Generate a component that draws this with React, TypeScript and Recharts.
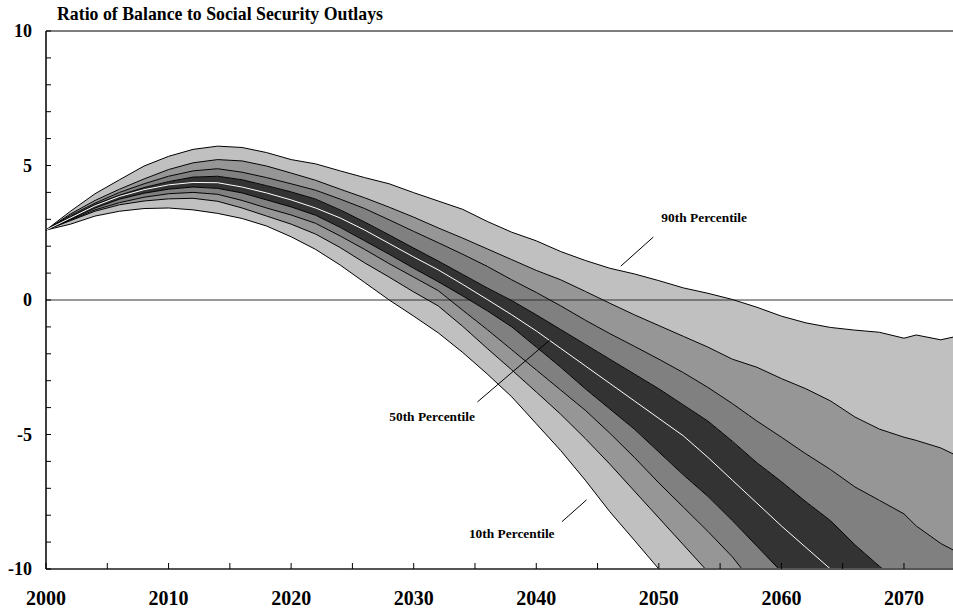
import React from "react";
import {
  ComposedChart,
  Area,
  Line,
  XAxis,
  YAxis,
  ReferenceLine,
  ReferenceDot,
} from "recharts";

// projection years (two-year steps, finer at the end)
const YEARS = [
  2000, 2002, 2004, 2006, 2008, 2010, 2012, 2014, 2016, 2018, 2020, 2022, 2024,
  2026, 2028, 2030, 2032, 2034, 2036, 2038, 2040, 2042, 2044, 2046, 2048, 2050,
  2052, 2054, 2056, 2058, 2060, 2062, 2064, 2066, 2068, 2070, 2071, 2073, 2074,
];

// percentiles of the trust fund ratio
const P90 = [
  2.6, 3.3, 3.95, 4.47, 4.98, 5.34, 5.6, 5.72, 5.67, 5.48, 5.22, 5.06, 4.8,
  4.55, 4.32, 3.99, 3.68, 3.37, 2.92, 2.52, 2.2, 1.8, 1.47, 1.18, 0.97, 0.72,
  0.45, 0.25, 0.02, -0.27, -0.6, -0.85, -1.02, -1.12, -1.2, -1.42, -1.3, -1.48, -1.38,
];
const P80 = [
  2.6, 3.2, 3.7, 4.12, 4.5, 4.85, 5.1, 5.22, 5.17, 4.98, 4.72, 4.45, 4.12,
  3.8, 3.45, 3.08, 2.68, 2.3, 1.9, 1.5, 1.1, 0.75, 0.32, -0.12, -0.55, -0.95,
  -1.35, -1.75, -2.2, -2.5, -2.92, -3.3, -3.75, -4.35, -4.8, -5.1, -5.22, -5.5, -5.72,
];
const P70 = [
  2.6, 3.15, 3.6, 4.0, 4.32, 4.6, 4.8, 4.88, 4.75, 4.55, 4.32, 4.08, 3.75,
  3.4, 2.98, 2.55, 2.13, 1.7, 1.25, 0.75, 0.28, -0.22, -0.75, -1.25, -1.72, -2.2,
  -2.7, -3.25, -3.85, -4.5, -5.1, -5.72, -6.3, -6.95, -7.45, -7.95, -8.4, -9.05, -9.29,
];
const P60 = [
  2.6, 3.1, 3.55, 3.9, 4.18, 4.4, 4.57, 4.6, 4.47, 4.25, 4.02, 3.75, 3.35,
  2.9, 2.42, 1.93, 1.45, 0.95, 0.45, -0.02, -0.55, -1.1, -1.65, -2.2, -2.75, -3.3,
  -3.9, -4.5, -5.25, -6.05, -6.75, -7.5, -8.2, -9.1, -9.9, -10.6, -11.0, -11.8, -12.2,
];
const P50 = [
  2.6, 3.05, 3.5, 3.85, 4.1, 4.28, 4.37, 4.36, 4.2, 3.98, 3.72, 3.42, 3.05,
  2.6, 2.1, 1.6, 1.12, 0.58, 0.02, -0.55, -1.15, -1.8, -2.45, -3.1, -3.75, -4.4,
  -5.05, -5.85, -6.7, -7.55, -8.4, -9.2, -10.0, -10.8, -11.6, -12.4, -12.8, -13.6, -14.0,
];
const P40 = [
  2.6, 3.0, 3.42, 3.75, 3.97, 4.12, 4.2, 4.15, 3.98, 3.72, 3.46, 3.15, 2.7,
  2.2, 1.7, 1.18, 0.68, 0.15, -0.4, -1.0, -1.75, -2.5, -3.3, -4.05, -4.8, -5.65,
  -6.5, -7.3, -8.2, -9.15, -10.1, -11.0, -11.9, -12.8, -13.7, -14.6, -15.0, -15.9, -16.3,
];
const P30 = [
  2.6, 2.98, 3.35, 3.62, 3.82, 3.95, 4.0, 3.93, 3.7, 3.42, 3.16, 2.85, 2.38,
  1.88, 1.35, 0.85, 0.35, -0.38, -1.1, -1.85, -2.6, -3.35, -4.1, -4.95, -5.85, -6.8,
  -7.7, -8.6, -9.55, -10.7, -11.8, -12.9, -14.0, -15.0, -16.0, -17.0, -17.5, -18.5, -19.0,
];
const P20 = [
  2.6, 2.95, 3.3, 3.54, 3.68, 3.76, 3.78, 3.67, 3.42, 3.12, 2.82, 2.45, 1.95,
  1.38, 0.85, 0.3, -0.22, -0.98, -1.8, -2.6, -3.42, -4.25, -5.15, -6.1, -7.1, -8.1,
  -9.1, -10.1, -11.2, -12.3, -13.4, -14.5, -15.6, -16.7, -17.8, -18.9, -19.4, -20.5, -21.0,
];
const P10 = [
  2.6, 2.82, 3.12, 3.3, 3.4, 3.42, 3.35, 3.22, 3.03, 2.75, 2.35, 1.88, 1.3,
  0.65, 0.0, -0.6, -1.22, -1.95, -2.75, -3.6, -4.6, -5.6, -6.7, -7.87, -8.93, -10.0,
  -11.1, -12.2, -13.3, -14.4, -15.5, -16.6, -17.7, -18.8, -19.9, -21.0, -21.5, -22.6, -23.1,
];

const X_TICKS = [
  2000, 2005, 2010, 2015, 2020, 2025, 2030, 2035, 2040, 2045, 2050, 2055, 2060,
  2065, 2070,
];
const Y_TICKS = [
  -10, -9, -8, -7, -6, -5, -4, -3, -2, -1, 0, 1, 2, 3, 4, 5, 6, 7, 8, 9, 10,
];

// callout labels with their leader lines, in data units
const NOTES = [
  { text: "90th Percentile", x: 2053.7, y: 2.9, from: [2046.9, 1.26], to: [2049.55, 2.34] },
  { text: "50th Percentile", x: 2031.5, y: -4.5, from: [2035.2, -3.79], to: [2041.1, -1.49] },
  { text: "10th Percentile", x: 2038.0, y: -8.85, from: [2042.1, -8.24], to: [2044.1, -7.43] },
];

const FONT = '"Liberation Serif", "Times New Roman", serif';

const rows = YEARS.map((year, i) => ({
  year,
  p10: P10[i],
  p20: P20[i],
  p30: P30[i],
  p40: P40[i],
  p50: P50[i],
  p60: P60[i],
  p70: P70[i],
  p80: P80[i],
  p90: P90[i],
  b10: [P10[i], P20[i]],
  b20: [P20[i], P30[i]],
  b30: [P30[i], P40[i]],
  b40: [P40[i], P60[i]],
  b60: [P60[i], P70[i]],
  b70: [P70[i], P80[i]],
  b80: [P80[i], P90[i]],
}));

const bands = [
  { key: "b10", fill: "#c0c0c0" },
  { key: "b20", fill: "#969696" },
  { key: "b30", fill: "#808080" },
  { key: "b40", fill: "#333333" },
  { key: "b60", fill: "#808080" },
  { key: "b70", fill: "#969696" },
  { key: "b80", fill: "#c0c0c0" },
];

const outlines = ["p10", "p20", "p30", "p40", "p60", "p70", "p80", "p90"];

const XTick = (props: any) => {
  const { x, y, payload } = props;
  const v = payload.value;
  return (
    <g>
      <line x1={x} x2={x} y1={y} y2={y - 6} stroke="#000" strokeWidth={1} />
      {v % 10 === 0 && (
        <text
          x={x}
          y={y + 36}
          textAnchor="middle"
          fontFamily={FONT}
          fontWeight="bold"
          fontSize={20}
          fill="#000"
        >
          {v}
        </text>
      )}
    </g>
  );
};

const YTick = (props: any) => {
  const { x, y, payload } = props;
  const v = payload.value;
  return (
    <g>
      <line x1={x} x2={x + 5} y1={y} y2={y} stroke="#000" strokeWidth={1} />
      {v % 5 === 0 && (
        <text
          x={x - 14}
          y={y + 6}
          textAnchor="end"
          fontFamily={FONT}
          fontWeight="bold"
          fontSize={18}
          fill="#000"
        >
          {v}
        </text>
      )}
    </g>
  );
};

export default function App() {
  return (
    <div
      style={{
        position: "absolute",
        left: 0,
        top: 0,
        width: 953,
        height: 609,
        background: "#fff",
        overflow: "hidden",
      }}
    >
      <div
        style={{
          position: "absolute",
          left: 57,
          top: 4,
          fontFamily: FONT,
          fontWeight: "bold",
          fontSize: 17.8,
          lineHeight: "20px",
          whiteSpace: "nowrap",
        }}
      >
        Ratio of Balance to Social Security Outlays
      </div>
      <ComposedChart
        width={953}
        height={609}
        data={rows}
        margin={{ top: 31, right: 0, bottom: 0, left: 0 }}
      >
        <XAxis
          dataKey="year"
          type="number"
          domain={[2000, 2074]}
          ticks={X_TICKS}
          interval={0}
          allowDataOverflow
          height={40}
          tickSize={0}
          tickMargin={0}
          tickLine={false}
          axisLine={{ stroke: "#555", strokeWidth: 2 }}
          tick={<XTick />}
        />
        <YAxis
          type="number"
          domain={[-10, 10]}
          ticks={Y_TICKS}
          interval={0}
          allowDataOverflow
          width={46}
          tickSize={0}
          tickMargin={0}
          tickLine={false}
          axisLine={{ stroke: "#000", strokeWidth: 1.5 }}
          tick={<YTick />}
        />

        {bands.map((b) => (
          <Area
            key={b.key}
            dataKey={b.key}
            type="linear"
            fill={b.fill}
            fillOpacity={1}
            stroke="none"
            isAnimationActive={false}
            activeDot={false}
          />
        ))}

        <ReferenceLine y={10} stroke="#000" strokeWidth={1} />
        <ReferenceLine y={0} stroke="#333" strokeWidth={1} />

        {outlines.map((k) => (
          <Line
            key={k}
            dataKey={k}
            type="linear"
            stroke="#000"
            strokeWidth={1}
            dot={false}
            activeDot={false}
            isAnimationActive={false}
          />
        ))}
        <Line
          dataKey="p50"
          type="linear"
          stroke="#fff"
          strokeWidth={1}
          dot={false}
          activeDot={false}
          isAnimationActive={false}
        />

        {NOTES.map((n) => (
          <ReferenceLine
            key={n.text + "-ptr"}
            segment={[
              { x: n.from[0], y: n.from[1] },
              { x: n.to[0], y: n.to[1] },
            ]}
            stroke="#000"
            strokeWidth={1}
          />
        ))}
        {NOTES.map((n) => (
          <ReferenceDot
            key={n.text}
            x={n.x}
            y={n.y}
            r={0}
            shape={(p: any) => (
              <text
                x={p.cx}
                y={p.cy}
                textAnchor="middle"
                fontFamily={FONT}
                fontWeight="bold"
                fontSize={13.4}
                fill="#000"
              >
                {n.text}
              </text>
            )}
          />
        ))}
      </ComposedChart>
    </div>
  );
}
